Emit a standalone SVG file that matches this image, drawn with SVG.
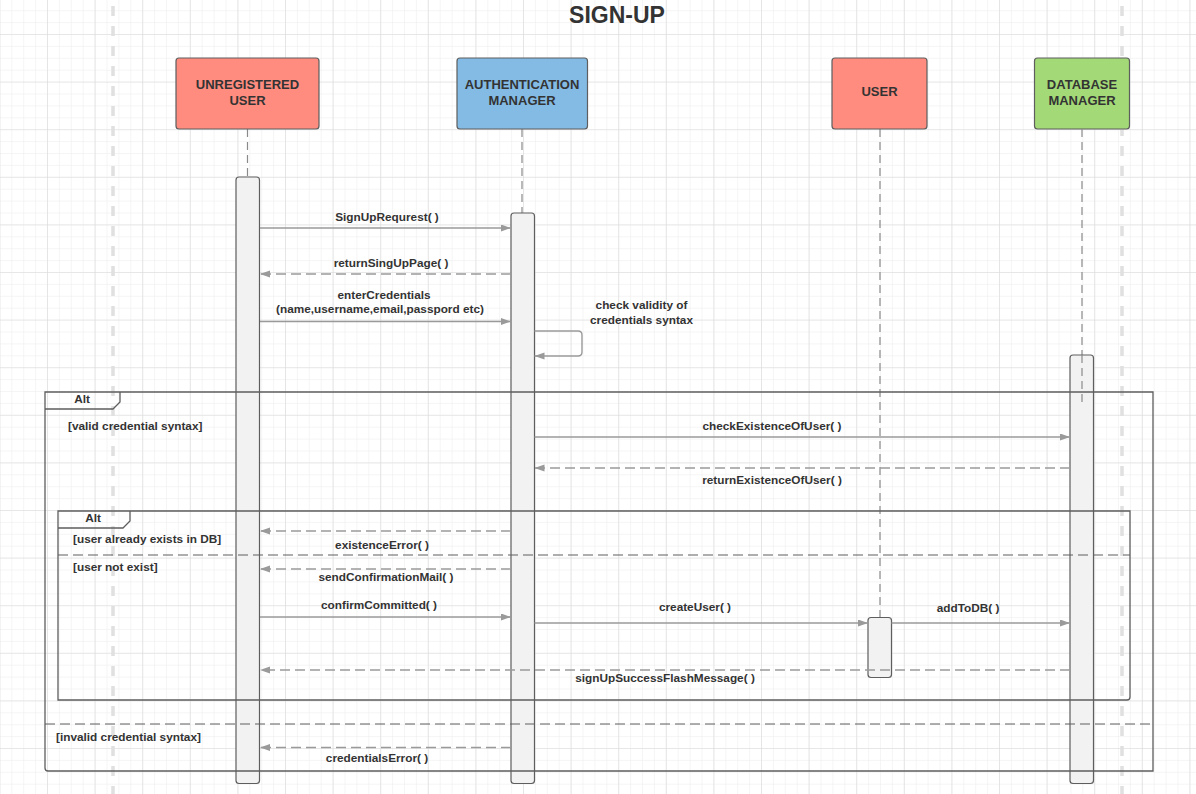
<svg xmlns="http://www.w3.org/2000/svg" width="1196" height="794" viewBox="0 0 1196 794">
<defs>
<pattern id="minor" x="47" y="34" width="11.9" height="11.9" patternUnits="userSpaceOnUse">
<path d="M0 0 V11.9 M0 0 H11.9" stroke="#ececec" stroke-width="1" fill="none"/>
</pattern>
<pattern id="major" x="47" y="34" width="47.6" height="47.6" patternUnits="userSpaceOnUse">
<path d="M0 0 V47.6 M0 0 H47.6" stroke="#dadada" stroke-width="1.2" fill="none"/>
</pattern>
<marker id="arr" markerUnits="userSpaceOnUse" markerWidth="11" markerHeight="8" refX="10" refY="3.5" orient="auto">
<path d="M0,0 L10,3.5 L0,7 z" fill="#9a9a9a"/>
</marker>
<style>
.t{font-family:"Liberation Sans",Arial,sans-serif;font-weight:bold;fill:#333;font-size:11.8px}
.c{text-anchor:middle}
.h{font-size:13px}
.box{stroke:#5e5e5e;stroke-width:1.2}
.bar{fill:#f2f2f2;stroke:#5e5e5e;stroke-width:1.2}
.life{stroke:#8a8a8a;stroke-width:1.2;stroke-dasharray:8 5;fill:none}
.msg{stroke:#9a9a9a;stroke-width:1.4;fill:none;marker-end:url(#arr)}
.ret{stroke:#9a9a9a;stroke-width:1.4;fill:none;stroke-dasharray:10 5;marker-end:url(#arr)}
.frame{fill:none;stroke:#5e5e5e;stroke-width:1.3}
.sep{stroke:#5e5e5e;stroke-width:1.2;stroke-dasharray:10 5;fill:none}
.margin{stroke:#e0e0e0;stroke-width:3.5;stroke-dasharray:10 10;fill:none}
</style>
</defs>
<rect width="1196" height="794" fill="#ffffff"/>
<rect width="1196" height="794" fill="url(#minor)"/>
<rect width="1196" height="794" fill="url(#major)"/>
<line class="margin" x1="113" y1="6" x2="113" y2="794"/>
<line class="margin" x1="1122" y1="6" x2="1122" y2="794"/>

<text class="t c" x="617" y="15" style="font-size:23px" dominant-baseline="central">SIGN-UP</text>

<g id="lifelines">
<line class="life" x1="247.5" y1="129" x2="247.5" y2="177"/>
<line class="life" x1="522" y1="129" x2="522" y2="213"/>
<line class="life" x1="880" y1="129" x2="880" y2="617"/>
</g>

<g id="unregistered-user">
<rect class="box" x="176" y="58" width="143" height="71" rx="3" fill="#ff8c7f"/>
<text class="t c h" x="247.5" y="84" dominant-baseline="central">UNREGISTERED</text>
<text class="t c h" x="247.5" y="100" dominant-baseline="central">USER</text>
<rect class="bar" x="236" y="177" width="23.5" height="606.5" rx="3"/>
</g>

<g id="authentication-manager">
<rect class="box" x="457" y="58" width="130.5" height="71" rx="3" fill="#83bbe5"/>
<text class="t c h" x="522" y="84" dominant-baseline="central">AUTHENTICATION</text>
<text class="t c h" x="522" y="100" dominant-baseline="central">MANAGER</text>
<rect class="bar" x="511" y="213" width="23.5" height="570.5" rx="3"/>
</g>

<g id="user">
<rect class="box" x="832" y="58" width="95" height="71" rx="3" fill="#ff8c7f"/>
<text class="t c h" x="879.5" y="91" dominant-baseline="central">USER</text>
<rect class="bar" x="868" y="617.5" width="23.5" height="60" rx="3"/>
</g>

<g id="database-manager">
<rect class="box" x="1034.5" y="58" width="95" height="71" rx="3" fill="#a3d977"/>
<text class="t c h" x="1082" y="84" dominant-baseline="central">DATABASE</text>
<text class="t c h" x="1082" y="100" dominant-baseline="central">MANAGER</text>
<line class="life" x1="1082" y1="129" x2="1082" y2="355"/>
<rect class="bar" x="1070" y="355" width="23.5" height="428.5" rx="3"/>
<line class="life" x1="1082" y1="355" x2="1082" y2="403"/>
</g>

<g id="frames">
<path class="frame" d="M45,392 H1153 V771 H48 Q45,771 45,768 Z"/>
<path class="frame" d="M45,409 H113 L120,402 V392"/>
<text class="t c" x="82" y="398.5" dominant-baseline="central">Alt</text>
<text class="t" x="68" y="425.5" dominant-baseline="central">[valid credential syntax]</text>
<line class="sep" x1="45" y1="724" x2="1153" y2="724"/>
<text class="t" x="56" y="736.5" dominant-baseline="central">[invalid credential syntax]</text>

<path class="frame" d="M58,511 H1130 V697 Q1130,700 1127,700 H58 Z"/>
<path class="frame" d="M58,528 H123 L130,521 V511"/>
<text class="t c" x="93" y="517.5" dominant-baseline="central">Alt</text>
<text class="t" x="73" y="538.5" dominant-baseline="central">[user already exists in DB]</text>
<line class="sep" x1="58" y1="555" x2="1130" y2="555"/>
<text class="t" x="73" y="567" dominant-baseline="central">[user not exist]</text>
</g>

<g id="connectors">
<line class="msg" x1="260" y1="228" x2="511" y2="228"/>
<text class="t c" x="387" y="217" dominant-baseline="central">SignUpRequrest( )</text>

<line class="ret" x1="511" y1="274" x2="260" y2="274"/>
<text class="t c" x="391" y="263" dominant-baseline="central">returnSingUpPage( )</text>

<line class="msg" x1="260" y1="321.5" x2="511" y2="321.5"/>
<text class="t c" x="384" y="294.5" dominant-baseline="central">enterCredentials</text>
<text class="t c" x="380" y="308.5" dominant-baseline="central">(name,username,email,passpord etc)</text>

<path class="msg" d="M534.5,331 H578 Q582,331 582,335 V352 Q582,356 578,356 H534.5"/>
<text class="t c" x="641.5" y="305" dominant-baseline="central">check validity of</text>
<text class="t c" x="641.5" y="319.5" dominant-baseline="central">credentials syntax</text>

<line class="msg" x1="534.5" y1="437" x2="1070" y2="437"/>
<text class="t c" x="772" y="425.5" dominant-baseline="central">checkExistenceOfUser( )</text>

<line class="ret" x1="1070" y1="468" x2="534.5" y2="468"/>
<text class="t c" x="772" y="480" dominant-baseline="central">returnExistenceOfUser( )</text>

<line class="ret" x1="511" y1="531" x2="260" y2="531"/>
<text class="t c" x="382" y="545" dominant-baseline="central">existenceError( )</text>

<line class="ret" x1="511" y1="569" x2="260" y2="569"/>
<text class="t c" x="386" y="577" dominant-baseline="central">sendConfirmationMail( )</text>

<line class="msg" x1="260" y1="617" x2="511" y2="617"/>
<text class="t c" x="379" y="605" dominant-baseline="central">confirmCommitted( )</text>

<line class="msg" x1="534.5" y1="623" x2="868" y2="623"/>
<text class="t c" x="695" y="607" dominant-baseline="central">createUser( )</text>

<line class="msg" x1="891.5" y1="623" x2="1070" y2="623"/>
<text class="t c" x="968" y="607.5" dominant-baseline="central">addToDB( )</text>

<line class="ret" x1="1070" y1="670" x2="260" y2="670"/>
<text class="t c" x="665" y="678" dominant-baseline="central">signUpSuccessFlashMessage( )</text>

<line class="ret" x1="511" y1="747.5" x2="260" y2="747.5"/>
<text class="t c" x="377" y="758" dominant-baseline="central">credentialsError( )</text>
</g>
</svg>
